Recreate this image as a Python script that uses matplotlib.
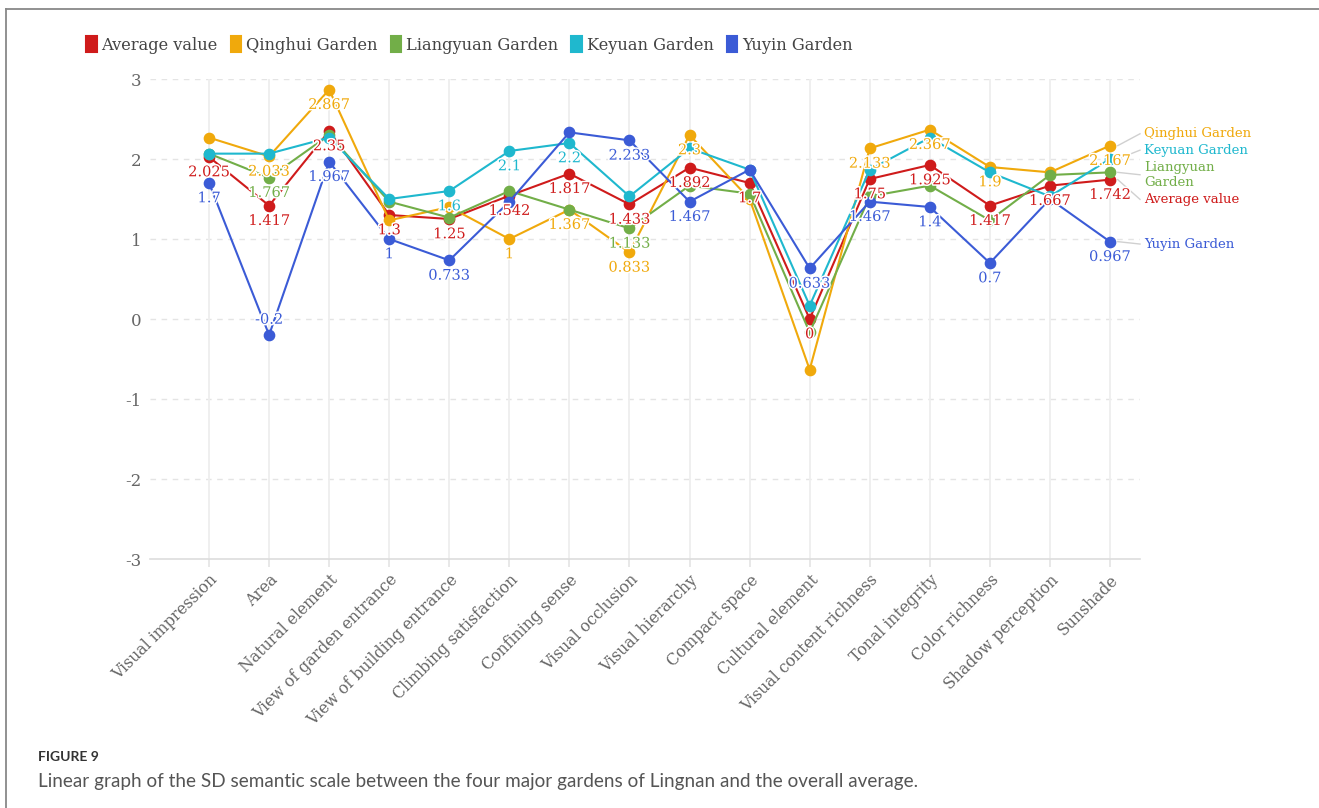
import matplotlib
matplotlib.use('Agg')
import matplotlib.pyplot as plt
from matplotlib.lines import Line2D
from matplotlib.patches import Patch
import matplotlib.patheffects as pe

plt.rcParams['axes.unicode_minus'] = False

categories = ['Visual impression', 'Area', 'Natural element', 'View of garden entrance',
              'View of building entrance', 'Climbing satisfaction', 'Confining sense',
              'Visual occlusion', 'Visual hierarchy', 'Compact space', 'Cultural element',
              'Visual content richness', 'Tonal integrity', 'Color richness',
              'Shadow perception', 'Sunshade']

series_names = ['Average value', 'Qinghui Garden', 'Liangyuan Garden', 'Keyuan Garden', 'Yuyin Garden']
end_label_text = ['Average value', 'Qinghui Garden', 'Liangyuan\nGarden', 'Keyuan Garden', 'Yuyin Garden']

average = [2.025, 1.417, 2.35, 1.3, 1.25, 1.542, 1.817, 1.433, 1.892, 1.7, 0, 1.75, 1.925, 1.417, 1.667, 1.742]
qinghui = [2.267, 2.033, 2.867, 1.233, 1.4, 1, 1.367, 0.833, 2.3, 1.5, -0.633, 2.133, 2.367, 1.9, 1.833, 2.167]
liangyuan = [2.067, 1.767, 2.3, 1.467, 1.267, 1.6, 1.367, 1.133, 1.667, 1.567, -0.167, 1.533, 1.667, 1.233, 1.8, 1.833]
keyuan = [2.067, 2.067, 2.267, 1.5, 1.6, 2.1, 2.2, 1.533, 2.133, 1.867, 0.167, 1.867, 2.267, 1.833, 1.533, 2.0]
yuyin = [1.7, -0.2, 1.967, 1, 0.733, 1.467, 2.333, 2.233, 1.467, 1.867, 0.633, 1.467, 1.4, 0.7, 1.5, 0.967]

# indices of the points whose value labels are visible
average_labels = list(range(16))
qinghui_labels = [1, 2, 5, 6, 7, 8, 11, 12, 13, 15]
liangyuan_labels = [1, 7]
keyuan_labels = [4, 5, 6]
yuyin_labels = [0, 1, 2, 3, 4, 7, 8, 10, 11, 12, 13, 15]

colors = ['#CF1B1B', '#F0A90C', '#72AE48', '#1FB8CE', '#3B5BD6']

series = [average, qinghui, liangyuan, keyuan, yuyin]
shown = [average_labels, qinghui_labels, liangyuan_labels, keyuan_labels, yuyin_labels]

W, H = 1319, 808
fig = plt.figure(figsize=(W / 100, H / 100), dpi=100)
ax = fig.add_axes([150 / W, 1 - 559 / H, 990 / W, 480 / H])

serif = 'DejaVu Serif'
x = list(range(len(categories)))

for name, vals, col, idxs in zip(series_names, series, colors, shown):
    ax.plot(x, vals, color=col, lw=1.5, marker='o', ms=7.4, zorder=3, clip_on=False,
            solid_joinstyle='round')
    for i in idxs:
        v = vals[i]
        dy = -11 if v >= 0 else 11
        ax.annotate(f"{v:g}", (i, v), xytext=(0, dy), textcoords='offset points',
                    ha='center', va='center', color=col, fontsize=10.5, family=serif,
                    zorder=10, annotation_clip=False,
                    path_effects=[pe.withStroke(linewidth=2.2, foreground='white')])

ax.set_xlim(-59 / 60, len(categories) - 0.5)
ax.set_ylim(-3, 3)
ax.set_yticks(range(-3, 4))
ax.set_xticks(x)
ax.set_xticklabels(categories, rotation=45, ha='right', va='top', rotation_mode='anchor',
                   family=serif, fontsize=11.3, color='#666666')
for lab in ax.get_yticklabels():
    lab.set_family(serif)
ax.tick_params(axis='y', length=0, pad=6, labelsize=12, labelcolor='#666666')
ax.tick_params(axis='x', length=6, width=1.3, color='#e6e6e6', pad=3)

for s in ['top', 'right', 'left']:
    ax.spines[s].set_visible(False)
ax.spines['bottom'].set_color('#dddddd')
ax.spines['bottom'].set_linewidth(1.2)

for yv in range(-2, 4):
    ax.axhline(yv, color='#e4e4e4', lw=1, dashes=(4, 4), zorder=0)
for xv in x:
    ax.axvline(xv, color='#eeeeee', lw=1.3, zorder=0)

# end labels with simple vertical de-overlap (shiftY)
hs = [0.41 if '\n' in t else 0.205 for t in end_label_text]
items = sorted([(series[k][-1], hs[k], k) for k in range(len(series))], reverse=True)
clusters = [[it] for it in items]

def cl_top(cl):
    m = sum(v for v, h, k in cl) / len(cl)
    return m + sum(h for v, h, k in cl) / 2

merged = True
while merged:
    merged = False
    for j in range(len(clusters) - 1):
        c1, c2 = clusters[j], clusters[j + 1]
        bottom1 = cl_top(c1) - sum(h for v, h, k in c1)
        if bottom1 < cl_top(c2):
            clusters[j] = c1 + c2
            del clusters[j + 1]
            merged = True
            break

label_y = {}
for cl in clusters:
    t = cl_top(cl)
    for v, h, k in cl:
        label_y[k] = t - h / 2
        t -= h

last = len(categories) - 1
for k in range(len(series)):
    ly = label_y[k] - 0.03
    v = series[k][-1]
    ax.plot([last + 0.13, last + 0.5], [v, ly], color='#d0d0d0', lw=1, clip_on=False, zorder=1)
    ax.text(last + 0.57, ly, end_label_text[k], color=colors[k], fontsize=9.5, family=serif,
            ha='left', va='center', linespacing=1.25, clip_on=False)

handles = [Patch(facecolor=c, edgecolor=c, linewidth=1.5, joinstyle='round') for c in colors]
fig.legend(handles, series_names, loc='center left', bbox_to_anchor=(86 / W, 1 - 45 / H),
           ncol=5, frameon=False, handlelength=0.65, handleheight=1.15, handletextpad=0.3,
           columnspacing=0.8, prop={'family': serif, 'size': 11.7}, labelcolor='#444444',
           borderpad=0, borderaxespad=0)

fig.text(38 / W, 1 - 757 / H, 'FIGURE 9', fontsize=10, weight='bold', family='Lato',
         color='#333333', va='center', ha='left')
fig.text(38 / W, 1 - 782 / H,
         'Linear graph of the SD semantic scale between the four major gardens of Lingnan and the overall average.',
         fontsize=13.6, family='Lato', color='#555555', va='center', ha='left')

fig.add_artist(Line2D([6 / W, 6 / W], [0, 1 - 9 / H], transform=fig.transFigure, color='#888888', lw=1.3))
fig.add_artist(Line2D([6 / W, 1], [1 - 9 / H, 1 - 9 / H], transform=fig.transFigure, color='#888888', lw=1.3))

fig.savefig('out.png', dpi=100)
